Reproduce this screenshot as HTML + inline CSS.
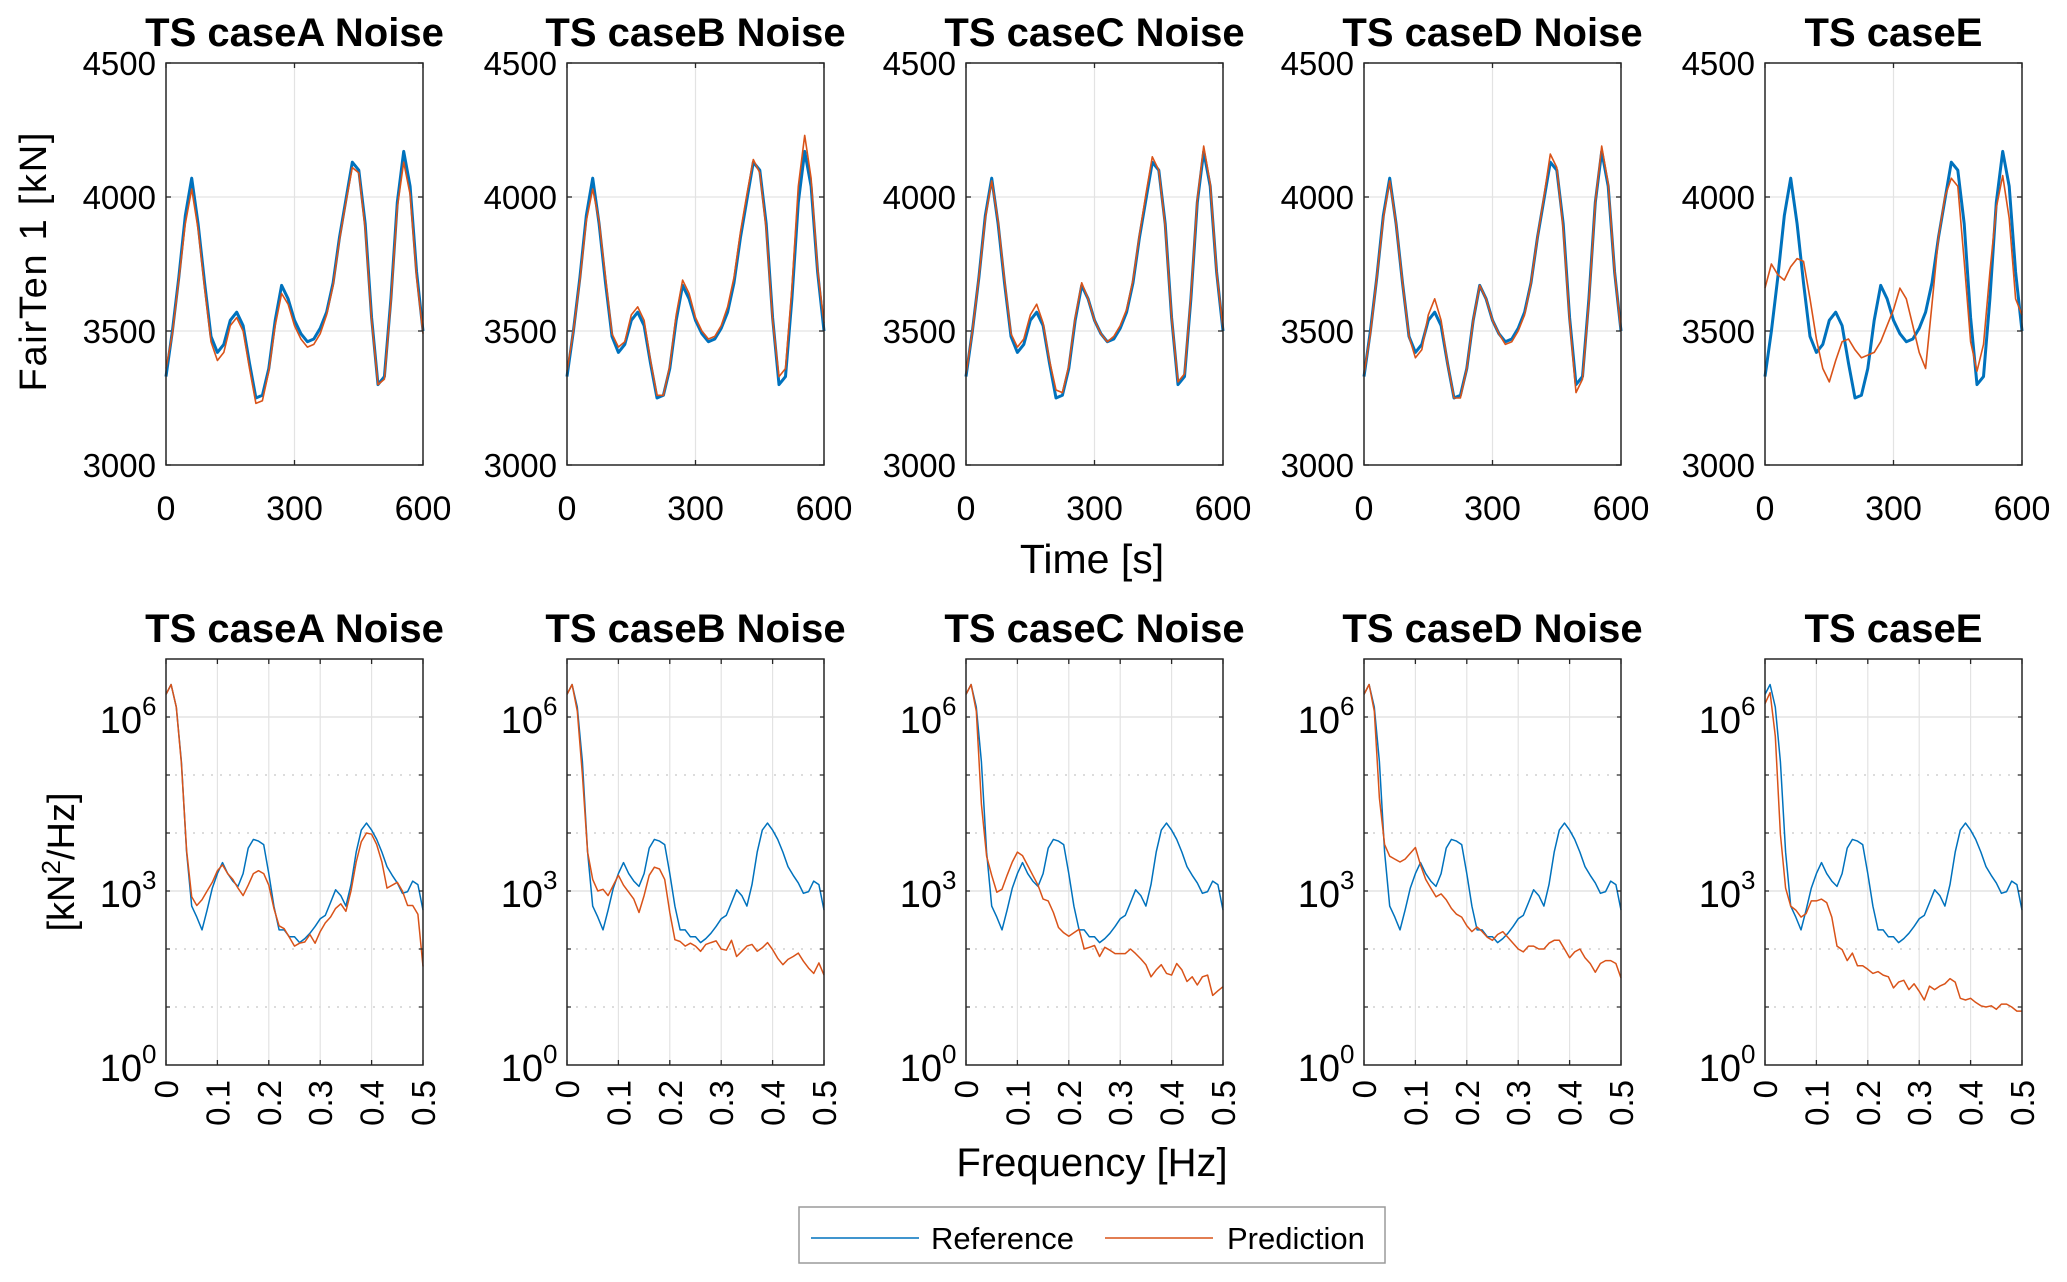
<!DOCTYPE html>
<html><head><meta charset="utf-8"><style>
html,body{margin:0;padding:0;background:#fff;}
svg{display:block;font-family:"Liberation Sans",Arial,sans-serif;}
</style></head><body>
<svg id="fig" width="2067" height="1282" viewBox="0 0 2067 1282" xmlns="http://www.w3.org/2000/svg">
<rect width="2067" height="1282" fill="#fff"/>
<g id="root"></g>
</svg>
<script>
const caseTitles = ["TS caseA Noise","TS caseB Noise","TS caseC Noise","TS caseD Noise","TS caseE"];
const timeTicks = [0,300,600];
const tenTicks = [3000,3500,4000,4500];
const times = [0,15,30,45,60,75,90,105,120,135,150,165,180,195,210,225,240,255,270,285,300,315,330,345,360,375,390,405,420,435,450,465,480,495,510,525,540,555,570,585,600];
const refTen = [3330,3500,3700,3930,4070,3900,3680,3480,3420,3450,3540,3570,3520,3380,3250,3260,3360,3540,3670,3620,3540,3490,3460,3470,3510,3570,3680,3850,3990,4130,4100,3900,3550,3300,3330,3620,3980,4170,4040,3720,3500];
const predTenA = [3360,3490,3690,3900,4030,3880,3660,3460,3390,3420,3520,3550,3500,3360,3230,3240,3350,3520,3640,3600,3520,3470,3440,3450,3490,3560,3670,3840,3980,4110,4090,3880,3540,3300,3320,3610,3960,4130,4010,3700,3490];
const predTenB = [3350,3500,3690,3910,4030,3910,3700,3490,3440,3460,3560,3590,3540,3390,3260,3260,3370,3560,3690,3640,3550,3500,3470,3480,3520,3590,3700,3870,4010,4140,4090,3880,3540,3330,3360,3660,4040,4230,4070,3730,3530];
const predTenC = [3340,3500,3700,3920,4060,3910,3690,3490,3440,3470,3560,3600,3530,3390,3280,3270,3370,3550,3680,3620,3540,3490,3460,3480,3520,3580,3690,3860,4010,4150,4100,3890,3550,3310,3340,3630,3990,4190,4050,3720,3510];
const predTenD = [3340,3490,3700,3920,4060,3900,3680,3480,3400,3430,3560,3620,3540,3380,3250,3250,3360,3540,3670,3620,3540,3490,3450,3460,3500,3560,3680,3850,4000,4160,4110,3880,3540,3270,3320,3610,3980,4190,4050,3720,3500];
const predTenE = [3660,3750,3710,3690,3740,3770,3760,3620,3470,3360,3310,3390,3460,3470,3430,3400,3410,3420,3460,3520,3580,3660,3620,3520,3420,3360,3600,3850,4000,4070,4040,3760,3460,3350,3450,3720,3960,4080,3920,3620,3560];
const predTen = [predTenA,predTenB,predTenC,predTenD,predTenE];

const freqs = [0,0.01,0.02,0.03,0.04,0.05,0.06,0.07,0.08,0.09,0.1,0.11,0.12,0.13,0.14,0.15,0.16,0.17,0.18,0.19,0.2,0.21,0.22,0.23,0.24,0.25,0.26,0.27,0.28,0.29,0.3,0.31,0.32,0.33,0.34,0.35,0.36,0.37,0.38,0.39,0.4,0.41,0.42,0.43,0.44,0.45,0.46,0.47,0.48,0.49,0.5];
const freqTicks = [0,0.1,0.2,0.3,0.4,0.5];
const psdDecadeTicks = [0,3,6];
// log10 PSD values
const refPsd = [6.39,6.56,6.17,5.23,3.67,2.74,2.55,2.33,2.67,3.05,3.30,3.49,3.30,3.17,3.08,3.30,3.74,3.89,3.86,3.80,3.30,2.74,2.33,2.33,2.21,2.21,2.11,2.18,2.27,2.39,2.52,2.58,2.80,3.02,2.92,2.74,3.11,3.67,4.05,4.17,4.05,3.89,3.67,3.42,3.27,3.14,2.96,2.99,3.17,3.11,2.67];
const predPsdA = [6.39,6.56,6.17,5.2,3.7,2.9,2.75,2.85,3.0,3.15,3.35,3.45,3.3,3.2,3.05,2.92,3.1,3.3,3.35,3.3,3.1,2.7,2.4,2.35,2.2,2.05,2.1,2.12,2.25,2.1,2.3,2.45,2.55,2.7,2.78,2.65,3.0,3.5,3.85,4.0,3.98,3.8,3.5,3.05,3.1,3.15,3.0,2.75,2.75,2.6,1.7];
const predPsdB = [6.39,6.56,6.1,5.0,3.67,3.2,3.0,3.03,2.92,3.1,3.27,3.1,2.98,2.86,2.63,2.92,3.27,3.41,3.38,3.2,2.63,2.16,2.13,2.05,2.1,2.05,1.96,2.08,2.11,2.14,2.0,1.98,2.15,1.87,1.96,2.05,2.08,1.96,2.02,2.11,1.99,1.84,1.73,1.82,1.87,1.93,1.79,1.67,1.58,1.76,1.55];
const predPsdC = [6.39,6.56,6.1,4.5,3.6,3.27,2.98,3.03,3.27,3.5,3.67,3.61,3.44,3.27,3.1,2.86,2.83,2.63,2.37,2.28,2.22,2.28,2.34,2.0,2.03,2.06,1.87,2.03,1.98,1.92,1.92,1.92,2.0,1.92,1.83,1.73,1.52,1.64,1.73,1.58,1.55,1.75,1.64,1.44,1.52,1.38,1.52,1.55,1.2,1.28,1.35];
const predPsdD = [6.39,6.56,6.1,4.6,3.8,3.6,3.55,3.5,3.55,3.65,3.75,3.45,3.2,3.05,2.9,2.95,2.85,2.7,2.6,2.55,2.4,2.3,2.38,2.3,2.2,2.15,2.25,2.3,2.2,2.1,2.0,1.95,2.05,2.05,2.0,2.0,2.1,2.15,2.15,2.0,1.85,1.95,2.0,1.85,1.75,1.6,1.75,1.8,1.8,1.75,1.5];
const predPsdE = [6.23,6.42,5.67,3.98,3.05,2.74,2.67,2.55,2.61,2.83,2.83,2.86,2.8,2.55,2.05,1.99,1.8,1.93,1.71,1.71,1.65,1.58,1.61,1.55,1.52,1.33,1.43,1.46,1.3,1.4,1.27,1.12,1.36,1.3,1.36,1.4,1.49,1.43,1.15,1.12,1.15,1.08,1.02,1.0,1.02,0.96,1.05,1.05,1.0,0.93,0.93];
const predPsd = [predPsdA,predPsdB,predPsdC,predPsdD,predPsdE];

const NS="http://www.w3.org/2000/svg";
const root=document.getElementById('root');
const BLUE="#0072BD", ORANGE="#D95319", AX="#262626", GRID="#e3e3e3";
const lefts=[166,567,966,1364,1765], W=257;
const TOP={y0:63,y1:465}, BOT={y0:659,y1:1065};
function el(tag,attrs,parent){const e=document.createElementNS(NS,tag);for(const k in attrs)e.setAttribute(k,attrs[k]);(parent||root).appendChild(e);return e;}
function txt(s,attrs,parent){const t=el('text',attrs,parent);t.textContent=s;return t;}

for(let p=0;p<5;p++){
  const L=lefts[p], R=L+W;
  const gT=el('g',{});
  
  
  const xT=t=>L+(t-0)/600*W;
  const yT=v=>TOP.y1-(v-3000)/1500*(TOP.y1-TOP.y0);
  [3500,4000].forEach(v=>el('line',{x1:L,x2:R,y1:yT(v),y2:yT(v),stroke:GRID,'stroke-width':1.2},gT));
  el('line',{x1:xT(300),x2:xT(300),y1:TOP.y0,y2:TOP.y1,stroke:GRID,'stroke-width':1.2},gT);
  const refPts=times.map((t,i)=>xT(t).toFixed(1)+','+yT(refTen[i]).toFixed(1)).join(' ');
  const rl=el('polyline',{points:refPts,fill:'none',stroke:BLUE,'stroke-width':3,'stroke-linejoin':'round'},gT);
  
  
  const prPts=times.map((t,i)=>xT(t).toFixed(1)+','+yT(predTen[p][i]).toFixed(1)).join(' ');
  const pl=el('polyline',{points:prPts,fill:'none',stroke:ORANGE,'stroke-width':1.6,'stroke-linejoin':'round'},gT);
  
  
  el('rect',{x:L,y:TOP.y0,width:W,height:TOP.y1-TOP.y0,fill:'none',stroke:AX,'stroke-width':1.5},gT);
  tenTicks.forEach(v=>{
    const y=yT(v);
    el('line',{x1:L,x2:L+5,y1:y,y2:y,stroke:AX,'stroke-width':1.3},gT);
    el('line',{x1:R,x2:R-5,y1:y,y2:y,stroke:AX,'stroke-width':1.3},gT);
    const lab=txt(String(v),{x:L-10,y:y+12,'text-anchor':'end','font-size':33,fill:'#000'},gT);
    
    
  });
  timeTicks.forEach(t=>{
    const x=xT(t);
    el('line',{x1:x,x2:x,y1:TOP.y1,y2:TOP.y1-5,stroke:AX,'stroke-width':1.3},gT);
    el('line',{x1:x,x2:x,y1:TOP.y0,y2:TOP.y0+5,stroke:AX,'stroke-width':1.3},gT);
    const lab=txt(String(t),{x:x,y:520,'text-anchor':'middle','font-size':34,fill:'#000'},gT);
    
    
  });
  const tt=txt(caseTitles[p],{x:(L+R)/2,y:46,'text-anchor':'middle','font-size':40,'font-weight':'bold',fill:'#000'},gT);
  
  

  const gB=el('g',{});
  
  
  const xF=f=>L+f/0.5*W;
  const yP=lg=>BOT.y1-lg/7*(BOT.y1-BOT.y0);
  [1,2,4,5].forEach(d=>el('line',{x1:L,x2:R,y1:yP(d),y2:yP(d),stroke:'#c8c8c8','stroke-width':1.2,'stroke-dasharray':'2,7'},gB));
  [3,6].forEach(d=>el('line',{x1:L,x2:R,y1:yP(d),y2:yP(d),stroke:GRID,'stroke-width':1.4},gB));
  [0.1,0.2,0.3,0.4].forEach(f=>el('line',{x1:xF(f),x2:xF(f),y1:BOT.y0,y2:BOT.y1,stroke:GRID,'stroke-width':1.2},gB));
  const rp=el('polyline',{points:freqs.map((f,i)=>xF(f).toFixed(1)+','+yP(refPsd[i]).toFixed(1)).join(' '),fill:'none',stroke:BLUE,'stroke-width':1.5,'stroke-linejoin':'round'},gB);
  
  
  const pp=el('polyline',{points:freqs.map((f,i)=>xF(f).toFixed(1)+','+yP(predPsd[p][i]).toFixed(1)).join(' '),fill:'none',stroke:ORANGE,'stroke-width':1.5,'stroke-linejoin':'round'},gB);
  
  
  el('rect',{x:L,y:BOT.y0,width:W,height:BOT.y1-BOT.y0,fill:'none',stroke:AX,'stroke-width':1.5},gB);
  for(let d=1;d<=6;d++){
    el('line',{x1:L,x2:L+4,y1:yP(d),y2:yP(d),stroke:AX,'stroke-width':1.2},gB);
    el('line',{x1:R,x2:R-4,y1:yP(d),y2:yP(d),stroke:AX,'stroke-width':1.2},gB);
  }
  psdDecadeTicks.forEach(d=>{
    const y=yP(d);
    const lab=txt('10',{x:L-24,y:y+16,'text-anchor':'end','font-size':38,fill:'#000'},gB);
    
    
    const ex=txt(String(d),{x:L-24,y:y-2,'text-anchor':'start','font-size':26,fill:'#000'},gB);
    
    
  });
  freqTicks.forEach(f=>{
    const x=xF(f);
    el('line',{x1:x,x2:x,y1:BOT.y1,y2:BOT.y1-5,stroke:AX,'stroke-width':1.3},gB);
    el('line',{x1:x,x2:x,y1:BOT.y0,y2:BOT.y0+5,stroke:AX,'stroke-width':1.3},gB);
    const lab=txt(String(f),{x:0,y:0,'text-anchor':'end','font-size':33,fill:'#000',transform:'translate('+(x+12)+','+(BOT.y1+15)+') rotate(-90)'},gB);
    
    
  });
  const bt=txt(caseTitles[p],{x:(L+R)/2,y:642,'text-anchor':'middle','font-size':40,'font-weight':'bold',fill:'#000'},gB);
  
  
}
</script>
<svg style="position:absolute;left:0;top:0" width="2067" height="1282" viewBox="0 0 2067 1282" xmlns="http://www.w3.org/2000/svg">
  <text transform="translate(46,262) rotate(-90)" text-anchor="middle" font-size="38" textLength="259" font-family="Liberation Sans, sans-serif">FairTen 1 [kN]</text>
  <text transform="translate(74,862) rotate(-90)" text-anchor="middle" font-size="38" font-family="Liberation Sans, sans-serif">[kN<tspan font-size="26" dy="-14">2</tspan><tspan dy="14">/Hz]</tspan></text>
  <text x="1092" y="573" text-anchor="middle" font-size="41" font-family="Liberation Sans, sans-serif">Time [s]</text>
  <text x="1092" y="1176" text-anchor="middle" font-size="40" font-family="Liberation Sans, sans-serif">Frequency [Hz]</text>
  <g>
    <rect x="799" y="1207" width="586" height="56" fill="#fff" stroke="#9a9a9a" stroke-width="1.5"/>
    <line x1="811" x2="919" y1="1238" y2="1238" stroke="#0072BD" stroke-width="1.5"/>
    <text x="931" y="1249" font-size="31" font-family="Liberation Sans, sans-serif">Reference</text>
    <line x1="1105" x2="1213" y1="1238" y2="1238" stroke="#D95319" stroke-width="1.5"/>
    <text x="1227" y="1249" font-size="31" font-family="Liberation Sans, sans-serif">Prediction</text>
  </g>
</svg>
</body></html>
